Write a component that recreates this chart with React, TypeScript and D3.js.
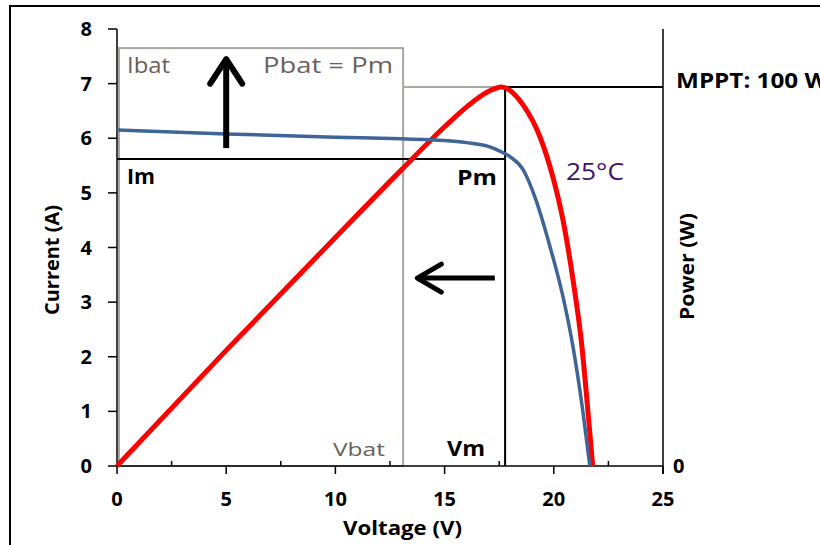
import React from 'react';
import * as d3 from 'd3';

const width = 820;
const height = 545;

// I-V curve (current axis, A)
const ivVoltage = [0, 5, 10, 13, 15, 16, 17, 17.5, 18, 18.6, 19.2, 19.83, 20.42, 20.88, 21.34, 21.65];
const ivCurrent = [6.15, 6.08, 6.02, 5.99, 5.96, 5.92, 5.85, 5.77, 5.66, 5.42, 4.85, 4.01, 3.1, 2.18, 0.97, 0];

// P-V curve (power axis, W)
const pvVoltage = [0, 5, 10, 13, 15, 16, 17, 17.6, 18.6, 19.37, 19.96, 20.42, 20.88, 21.29, 21.57, 21.78];
const pvPower = [0, 30.5, 60.3, 78, 89.5, 94.7, 98.8, 100, 95.2, 86.8, 76.2, 64.9, 49.1, 31.4, 14, 0];

const xTicks = [0, 5, 10, 15, 20, 25];
const xMinorTicks = [2.5, 7.5, 12.5, 17.5, 22.5];
const yTicks = [0, 1, 2, 3, 4, 5, 6, 7, 8];

// operating points
const Vm = 17.77;
const Im = 5.62;
const Pm = 100;
const Vbat = 13.1;
const Ibat = 7.65;

const font = '"Open Sans", Lato, sans-serif';

export default function App() {
  const x = d3.scaleLinear().domain([0, 25]).range([117, 663]);
  const y = d3.scaleLinear().domain([0, 8]).range([466, 29]);
  const yP = d3.scaleLinear().domain([0, 115.3]).range([466, 29]);

  const ivLine = d3.line<number>()
    .x((d, i) => x(ivVoltage[i]))
    .y(d => y(d))
    .curve(d3.curveMonotoneX);
  const pvLine = d3.line<number>()
    .x((d, i) => x(pvVoltage[i]))
    .y(d => yP(d))
    .curve(d3.curveMonotoneX);

  const grey = '#aaa6a2';
  const greyText = '#6b6058';
  const fit = { lengthAdjust: 'spacingAndGlyphs' as const };

  return (
    <svg width={width} height={height} style={{ position: 'absolute', left: 0, top: 0, background: '#fff' }}
      fontFamily={font}>
      <rect x={10} y={6} width={830} height={580} fill="none" stroke="#000" strokeWidth={2} />

      {/* battery operating box */}
      <rect x={x(0) + 2} y={y(Ibat)} width={x(Vbat) - x(0) - 2} height={y(0) - y(Ibat)}
        fill="none" stroke={grey} strokeWidth={2} />
      <line x1={x(Vbat)} x2={x(Vm)} y1={yP(Pm)} y2={yP(Pm)} stroke={grey} strokeWidth={2} />

      {/* MPP lines */}
      <line x1={x(0)} x2={x(Vm)} y1={y(Im)} y2={y(Im)} stroke="#000" strokeWidth={2} />
      <line x1={x(Vm)} x2={x(Vm)} y1={yP(Pm)} y2={y(0)} stroke="#000" strokeWidth={2} />
      <line x1={x(Vm)} x2={x(25)} y1={yP(Pm)} y2={yP(Pm)} stroke="#000" strokeWidth={2} />

      {/* axes */}
      <line x1={x(0)} x2={x(0)} y1={y(8)} y2={y(0)} stroke="#000" strokeWidth={1.5} />
      <line x1={x(25)} x2={x(25)} y1={y(8)} y2={y(0) + 8} stroke="#000" strokeWidth={1.5} />
      <line x1={x(0)} x2={x(25)} y1={y(0)} y2={y(0)} stroke="#000" strokeWidth={1.5} />
      {yTicks.map(t => (
        <g key={'y' + t}>
          <line x1={x(0) - 9} x2={x(0)} y1={y(t)} y2={y(t)} stroke="#000" strokeWidth={1.5} />
          <text x={92} y={y(t) + 7} textAnchor="end" fontSize={20} fontWeight="bold">{t}</text>
        </g>
      ))}
      {xTicks.map(t => (
        <g key={'x' + t}>
          <line x1={x(t)} x2={x(t)} y1={y(0)} y2={y(0) + 8} stroke="#000" strokeWidth={1.5} />
          <text x={x(t)} y={506} textAnchor="middle" fontSize={20} fontWeight="bold">{t}</text>
        </g>
      ))}
      {xMinorTicks.map(t => (
        <line key={'m' + t} x1={x(t)} x2={x(t)} y1={y(0) - 5} y2={y(0)} stroke="#000" strokeWidth={1.5} />
      ))}
      <text x={673} y={473} fontSize={20} fontWeight="bold">0</text>

      {/* curves */}
      <path d={pvLine(pvPower) || ''} fill="none" stroke="#ff0000" strokeWidth={5} strokeLinejoin="round" />
      <path d={ivLine(ivCurrent) || ''} fill="none" stroke="#3f6496" strokeWidth={3.5} strokeLinejoin="round" />

      {/* arrows */}
      <g stroke="#000" strokeWidth={6} fill="none" strokeLinecap="round" strokeLinejoin="round">
        <line x1={x(5)} x2={x(5)} y1={y(5.82)} y2={y(7.45)} strokeLinecap="butt" />
        <polyline points={`${x(5) - 16},${y(7.0)} ${x(5)},${y(7.45)} ${x(5) + 16},${y(7.0)}`} />
        <line x1={x(17.3)} x2={x(13.75)} y1={y(3.44)} y2={y(3.44)} strokeLinecap="butt" strokeWidth={5} />
        <polyline strokeWidth={5}
          points={`${x(13.75) + 24},${y(3.44) - 14} ${x(13.75)},${y(3.44)} ${x(13.75) + 24},${y(3.44) + 14}`} />
      </g>

      {/* labels */}
      <text x={127} y={73} fontSize={22} fill={greyText} textLength={43} {...fit}>Ibat</text>
      <text x={263} y={73} fontSize={22} fill={greyText} textLength={130} {...fit}>Pbat = Pm</text>
      <text x={127} y={184} fontSize={21} fontWeight="bold" textLength={28} {...fit}>Im</text>
      <text x={457} y={185} fontSize={22} fontWeight="bold" textLength={40} {...fit}>Pm</text>
      <text x={566} y={180} fontSize={23} fill="#3d1466" textLength={58} {...fit}>25°C</text>
      <text x={333} y={456} fontSize={19} fill={greyText} textLength={52} {...fit}>Vbat</text>
      <text x={447} y={456} fontSize={22} fontWeight="bold" textLength={38} {...fit}>Vm</text>
      <text x={676} y={88} fontSize={21} fontWeight="bold" textLength={152} {...fit}>MPPT: 100 W</text>

      <text x={343} y={535} fontSize={20} fontWeight="bold" textLength={119} {...fit}>Voltage (V)</text>
      <text transform="translate(59,315) rotate(-90)" fontSize={20} fontWeight="bold" textLength={110} {...fit}>Current (A)</text>
      <text transform="translate(694,320) rotate(-90)" fontSize={20} fontWeight="bold" textLength={107} {...fit}>Power (W)</text>
    </svg>
  );
}
